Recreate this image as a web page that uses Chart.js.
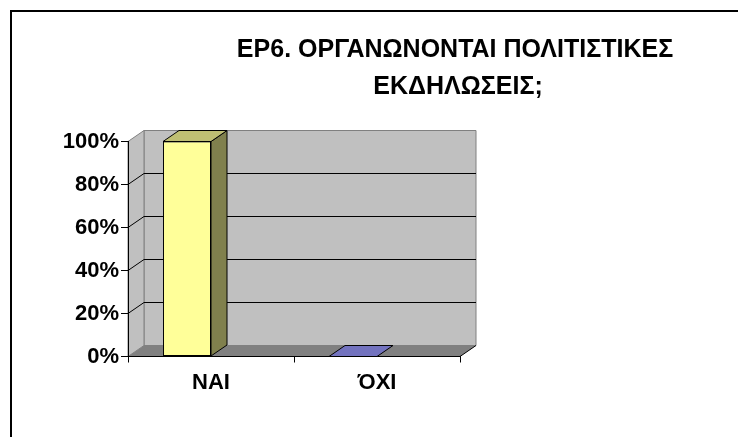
<!DOCTYPE html>
<html><head><meta charset="utf-8">
<script src="https://cdn.jsdelivr.net/npm/chart.js@4/dist/chart.umd.min.js"></script>
<style>html,body{margin:0;padding:0;background:#fff}canvas{display:block}</style>
</head><body>
<canvas id="c" width="738" height="437"></canvas>
<script>
// ---- data ----
const categories = ['ΝΑΙ', 'ΌΧΙ'];
const percentages = [100, 0];
const barColors = ['#FFFF99', '#9999FF'];
const yTickValues = [0, 20, 40, 60, 80, 100];
const titleLines = ['ΕΡ6. ΟΡΓΑΝΩΝΟΝΤΑΙ ΠΟΛΙΤΙΣΤΙΚΕΣ', 'ΕΚΔΗΛΩΣΕΙΣ;'];

// ---- style ----
const FONT = '"Liberation Sans", Arial, sans-serif';
const DX = 16, DY = -11;          // 3-D depth offset
const WALL = '#C0C0C0', FLOOR = '#808080', EDGE = '#808080';

function shade(hex, f) {
  const n = parseInt(hex.slice(1), 16);
  const r = Math.round(((n >> 16) & 255) * f), g = Math.round(((n >> 8) & 255) * f), b = Math.round((n & 255) * f);
  return 'rgb(' + r + ',' + g + ',' + b + ')';
}
function poly(ctx, pts, fill, stroke) {
  ctx.beginPath();
  pts.forEach((p, i) => i ? ctx.lineTo(p[0], p[1]) : ctx.moveTo(p[0], p[1]));
  ctx.closePath();
  if (fill) { ctx.fillStyle = fill; ctx.fill(); }
  if (stroke) { ctx.strokeStyle = stroke; ctx.lineWidth = 1; ctx.stroke(); }
}
function line(ctx, x1, y1, x2, y2, c) {
  ctx.beginPath(); ctx.moveTo(x1, y1); ctx.lineTo(x2, y2);
  ctx.strokeStyle = c; ctx.lineWidth = 1; ctx.stroke();
}

const plot3d = {
  id: 'plot3d',
  beforeDraw(chart) {
    const { ctx, chartArea: a, scales: { y } } = chart;
    const L = a.left, R = a.right, T = y.getPixelForValue(100), B = y.getPixelForValue(0);
    ctx.save();
    // frame (only top/left visible)
    ctx.fillStyle = '#000';
    ctx.fillRect(10, 10, chart.width - 10, 2);
    ctx.fillRect(10, 10, 2, chart.height - 10);
    // back wall
    poly(ctx, [[L + DX, T + DY], [R + DX, T + DY], [R + DX, B + DY], [L + DX, B + DY]], WALL, EDGE);
    // side wall
    poly(ctx, [[L, T], [L + DX, T + DY], [L + DX, B + DY], [L, B]], WALL, EDGE);
    // floor
    poly(ctx, [[L, B], [R, B], [R + DX, B + DY], [L + DX, B + DY]], FLOOR, null);
    line(ctx, R, B, R + DX, B + DY, '#000');
    // gridlines
    yTickValues.forEach(v => {
      if (v === 0 || v === 100) return;
      const py = y.getPixelForValue(v);
      line(ctx, L, py, L + DX, py + DY, '#000');
      line(ctx, L + DX, py + DY, R + DX, py + DY, '#000');
    });
    ctx.restore();
  },
  afterDatasetsDraw(chart) {
    const { ctx } = chart;
    const meta = chart.getDatasetMeta(0);
    ctx.save();
    meta.data.forEach((bar, i) => {
      const l = bar.x - bar.width / 2, r = bar.x + bar.width / 2, t = bar.y, b = bar.base;
      const col = barColors[i];
      if (b - t > 0.5) {
        poly(ctx, [[r, t], [r + DX, t + DY], [r + DX, b + DY], [r, b]], shade(col, 0.5), '#000');
      }
      poly(ctx, [[l, t], [r, t], [r + DX, t + DY], [l + DX, t + DY]], shade(col, 0.75), '#000');
    });
    ctx.restore();
  },
  afterDraw(chart) {
    const { ctx } = chart;
    ctx.save();
    ctx.fillStyle = '#000';
    ctx.font = 'bold 25px ' + FONT;
    ctx.textAlign = 'center';
    ctx.textBaseline = 'alphabetic';
    ctx.fillText(titleLines[0], 455, 57);
    ctx.fillText(titleLines[1], 458, 94);
    ctx.restore();
  }
};

new Chart(document.getElementById('c'), {
  type: 'bar',
  data: {
    labels: categories,
    datasets: [
      { data: percentages, backgroundColor: barColors, borderColor: '#000', borderWidth: 1, borderSkipped: false },
      { data: categories.map(() => null) }
    ]
  },
  plugins: [plot3d],
  options: {
    responsive: false,
    devicePixelRatio: 1,
    animation: false,
    events: [],
    layout: { padding: { top: 141.5, right: 738 - 460, left: 0, bottom: 0 } },
    datasets: { bar: { categoryPercentage: 0.578, barPercentage: 1 } },
    plugins: { legend: { display: false }, title: { display: false }, tooltip: { enabled: false } },
    scales: {
      x: {
        offset: true,
        grid: { offset: true, drawOnChartArea: false, drawTicks: true, tickLength: 6, color: '#000' },
        border: { display: true, color: '#000', width: 1 },
        ticks: { color: '#000', font: { family: FONT, size: 22, weight: 'bold' }, padding: 7, maxRotation: 0 },
        afterFit: s => { s.height = 437 - 356.5; }
      },
      y: {
        min: 0, max: 100,
        afterBuildTicks: s => { s.ticks = yTickValues.map(v => ({ value: v })); },
        grid: { drawOnChartArea: false, drawTicks: true, tickLength: 7, color: '#000' },
        border: { display: true, color: '#000', width: 1 },
        ticks: { color: '#000', font: { family: FONT, size: 22, weight: 'bold' }, padding: 2, callback: v => v + '%' },
        afterFit: s => { s.width = 128; }
      }
    }
  }
});
</script>
</body></html>
